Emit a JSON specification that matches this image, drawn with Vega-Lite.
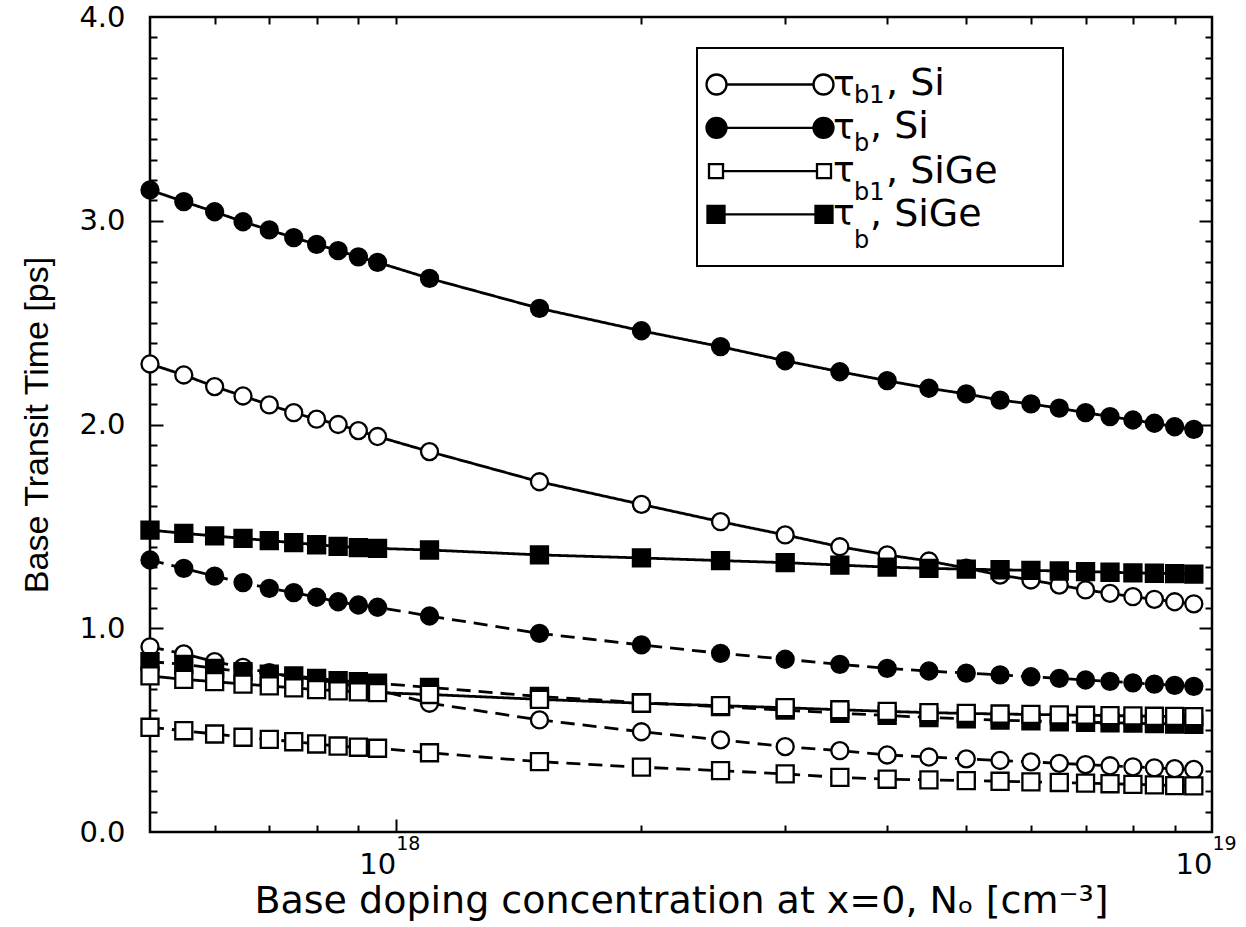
{
  "$schema": "https://vega.github.io/schema/vega-lite/v6.json",
  "width": 1062,
  "height": 815,
  "autosize": "none",
  "padding": {"left": 150, "top": 17, "right": 34, "bottom": 95},
  "background": "white",
  "config": {
    "view": {"stroke": "black", "strokeWidth": 2.5},
    "font": "DejaVu Sans",
    "axis": {"grid": false, "domain": false, "labelColor": "black", "titleColor": "black", "tickColor": "black", "tickWidth": 2, "titleFontWeight": "normal", "labelFont": "DejaVu Sans", "titleFont": "DejaVu Sans"},
    "legend": {"labelColor": "black", "labelFont": "DejaVu Sans", "titleFont": "DejaVu Sans", "strokeWidth": 2}
  },
  "datasets": {
    "curves": [
      {"N":5e17,"tau":2.297,"qty":"τb1","mat":"Si","set":"1"},{"N":5.5e17,"tau":2.243,"qty":"τb1","mat":"Si","set":"1"},{"N":6e17,"tau":2.186,"qty":"τb1","mat":"Si","set":"1"},{"N":6.5e17,"tau":2.140,"qty":"τb1","mat":"Si","set":"1"},{"N":7e17,"tau":2.096,"qty":"τb1","mat":"Si","set":"1"},{"N":7.5e17,"tau":2.058,"qty":"τb1","mat":"Si","set":"1"},{"N":8e17,"tau":2.026,"qty":"τb1","mat":"Si","set":"1"},{"N":8.5e17,"tau":2.000,"qty":"τb1","mat":"Si","set":"1"},{"N":9e17,"tau":1.970,"qty":"τb1","mat":"Si","set":"1"},{"N":9.5e17,"tau":1.941,"qty":"τb1","mat":"Si","set":"1"},{"N":1.1e18,"tau":1.867,"qty":"τb1","mat":"Si","set":"1"},{"N":1.5e18,"tau":1.719,"qty":"τb1","mat":"Si","set":"1"},{"N":2e18,"tau":1.608,"qty":"τb1","mat":"Si","set":"1"},{"N":2.5e18,"tau":1.523,"qty":"τb1","mat":"Si","set":"1"},{"N":3e18,"tau":1.458,"qty":"τb1","mat":"Si","set":"1"},{"N":3.5e18,"tau":1.400,"qty":"τb1","mat":"Si","set":"1"},{"N":4e18,"tau":1.360,"qty":"τb1","mat":"Si","set":"1"},{"N":4.5e18,"tau":1.330,"qty":"τb1","mat":"Si","set":"1"},{"N":5e18,"tau":1.295,"qty":"τb1","mat":"Si","set":"1"},{"N":5.5e18,"tau":1.261,"qty":"τb1","mat":"Si","set":"1"},{"N":6e18,"tau":1.237,"qty":"τb1","mat":"Si","set":"1"},{"N":6.5e18,"tau":1.212,"qty":"τb1","mat":"Si","set":"1"},{"N":7e18,"tau":1.188,"qty":"τb1","mat":"Si","set":"1"},{"N":7.5e18,"tau":1.171,"qty":"τb1","mat":"Si","set":"1"},{"N":8e18,"tau":1.155,"qty":"τb1","mat":"Si","set":"1"},{"N":8.5e18,"tau":1.142,"qty":"τb1","mat":"Si","set":"1"},{"N":9e18,"tau":1.130,"qty":"τb1","mat":"Si","set":"1"},{"N":9.5e18,"tau":1.120,"qty":"τb1","mat":"Si","set":"1"},
      {"N":5e17,"tau":0.909,"qty":"τb1","mat":"Si","set":"2"},{"N":5.5e17,"tau":0.874,"qty":"τb1","mat":"Si","set":"2"},{"N":6e17,"tau":0.836,"qty":"τb1","mat":"Si","set":"2"},{"N":6.5e17,"tau":0.808,"qty":"τb1","mat":"Si","set":"2"},{"N":7e17,"tau":0.782,"qty":"τb1","mat":"Si","set":"2"},{"N":7.5e17,"tau":0.762,"qty":"τb1","mat":"Si","set":"2"},{"N":8e17,"tau":0.746,"qty":"τb1","mat":"Si","set":"2"},{"N":8.5e17,"tau":0.733,"qty":"τb1","mat":"Si","set":"2"},{"N":9e17,"tau":0.713,"qty":"τb1","mat":"Si","set":"2"},{"N":9.5e17,"tau":0.697,"qty":"τb1","mat":"Si","set":"2"},{"N":1.1e18,"tau":0.632,"qty":"τb1","mat":"Si","set":"2"},{"N":1.5e18,"tau":0.550,"qty":"τb1","mat":"Si","set":"2"},{"N":2e18,"tau":0.492,"qty":"τb1","mat":"Si","set":"2"},{"N":2.5e18,"tau":0.452,"qty":"τb1","mat":"Si","set":"2"},{"N":3e18,"tau":0.419,"qty":"τb1","mat":"Si","set":"2"},{"N":3.5e18,"tau":0.399,"qty":"τb1","mat":"Si","set":"2"},{"N":4e18,"tau":0.378,"qty":"τb1","mat":"Si","set":"2"},{"N":4.5e18,"tau":0.368,"qty":"τb1","mat":"Si","set":"2"},{"N":5e18,"tau":0.359,"qty":"τb1","mat":"Si","set":"2"},{"N":5.5e18,"tau":0.351,"qty":"τb1","mat":"Si","set":"2"},{"N":6e18,"tau":0.344,"qty":"τb1","mat":"Si","set":"2"},{"N":6.5e18,"tau":0.337,"qty":"τb1","mat":"Si","set":"2"},{"N":7e18,"tau":0.331,"qty":"τb1","mat":"Si","set":"2"},{"N":7.5e18,"tau":0.325,"qty":"τb1","mat":"Si","set":"2"},{"N":8e18,"tau":0.320,"qty":"τb1","mat":"Si","set":"2"},{"N":8.5e18,"tau":0.315,"qty":"τb1","mat":"Si","set":"2"},{"N":9e18,"tau":0.311,"qty":"τb1","mat":"Si","set":"2"},{"N":9.5e18,"tau":0.307,"qty":"τb1","mat":"Si","set":"2"},
      {"N":5e17,"tau":3.151,"qty":"τb","mat":"Si","set":"1"},{"N":5.5e17,"tau":3.094,"qty":"τb","mat":"Si","set":"1"},{"N":6e17,"tau":3.044,"qty":"τb","mat":"Si","set":"1"},{"N":6.5e17,"tau":2.995,"qty":"τb","mat":"Si","set":"1"},{"N":7e17,"tau":2.955,"qty":"τb","mat":"Si","set":"1"},{"N":7.5e17,"tau":2.917,"qty":"τb","mat":"Si","set":"1"},{"N":8e17,"tau":2.884,"qty":"τb","mat":"Si","set":"1"},{"N":8.5e17,"tau":2.853,"qty":"τb","mat":"Si","set":"1"},{"N":9e17,"tau":2.823,"qty":"τb","mat":"Si","set":"1"},{"N":9.5e17,"tau":2.796,"qty":"τb","mat":"Si","set":"1"},{"N":1.1e18,"tau":2.717,"qty":"τb","mat":"Si","set":"1"},{"N":1.5e18,"tau":2.570,"qty":"τb","mat":"Si","set":"1"},{"N":2e18,"tau":2.460,"qty":"τb","mat":"Si","set":"1"},{"N":2.5e18,"tau":2.382,"qty":"τb","mat":"Si","set":"1"},{"N":3e18,"tau":2.313,"qty":"τb","mat":"Si","set":"1"},{"N":3.5e18,"tau":2.259,"qty":"τb","mat":"Si","set":"1"},{"N":4e18,"tau":2.215,"qty":"τb","mat":"Si","set":"1"},{"N":4.5e18,"tau":2.178,"qty":"τb","mat":"Si","set":"1"},{"N":5e18,"tau":2.150,"qty":"τb","mat":"Si","set":"1"},{"N":5.5e18,"tau":2.120,"qty":"τb","mat":"Si","set":"1"},{"N":6e18,"tau":2.101,"qty":"τb","mat":"Si","set":"1"},{"N":6.5e18,"tau":2.080,"qty":"τb","mat":"Si","set":"1"},{"N":7e18,"tau":2.058,"qty":"τb","mat":"Si","set":"1"},{"N":7.5e18,"tau":2.039,"qty":"τb","mat":"Si","set":"1"},{"N":8e18,"tau":2.022,"qty":"τb","mat":"Si","set":"1"},{"N":8.5e18,"tau":2.006,"qty":"τb","mat":"Si","set":"1"},{"N":9e18,"tau":1.989,"qty":"τb","mat":"Si","set":"1"},{"N":9.5e18,"tau":1.976,"qty":"τb","mat":"Si","set":"1"},
      {"N":5e17,"tau":1.335,"qty":"τb","mat":"Si","set":"2"},{"N":5.5e17,"tau":1.294,"qty":"τb","mat":"Si","set":"2"},{"N":6e17,"tau":1.256,"qty":"τb","mat":"Si","set":"2"},{"N":6.5e17,"tau":1.224,"qty":"τb","mat":"Si","set":"2"},{"N":7e17,"tau":1.196,"qty":"τb","mat":"Si","set":"2"},{"N":7.5e17,"tau":1.175,"qty":"τb","mat":"Si","set":"2"},{"N":8e17,"tau":1.152,"qty":"τb","mat":"Si","set":"2"},{"N":8.5e17,"tau":1.130,"qty":"τb","mat":"Si","set":"2"},{"N":9e17,"tau":1.114,"qty":"τb","mat":"Si","set":"2"},{"N":9.5e17,"tau":1.103,"qty":"τb","mat":"Si","set":"2"},{"N":1.1e18,"tau":1.060,"qty":"τb","mat":"Si","set":"2"},{"N":1.5e18,"tau":0.975,"qty":"τb","mat":"Si","set":"2"},{"N":2e18,"tau":0.918,"qty":"τb","mat":"Si","set":"2"},{"N":2.5e18,"tau":0.877,"qty":"τb","mat":"Si","set":"2"},{"N":3e18,"tau":0.848,"qty":"τb","mat":"Si","set":"2"},{"N":3.5e18,"tau":0.823,"qty":"τb","mat":"Si","set":"2"},{"N":4e18,"tau":0.803,"qty":"τb","mat":"Si","set":"2"},{"N":4.5e18,"tau":0.790,"qty":"τb","mat":"Si","set":"2"},{"N":5e18,"tau":0.780,"qty":"τb","mat":"Si","set":"2"},{"N":5.5e18,"tau":0.771,"qty":"τb","mat":"Si","set":"2"},{"N":6e18,"tau":0.762,"qty":"τb","mat":"Si","set":"2"},{"N":6.5e18,"tau":0.754,"qty":"τb","mat":"Si","set":"2"},{"N":7e18,"tau":0.746,"qty":"τb","mat":"Si","set":"2"},{"N":7.5e18,"tau":0.739,"qty":"τb","mat":"Si","set":"2"},{"N":8e18,"tau":0.732,"qty":"τb","mat":"Si","set":"2"},{"N":8.5e18,"tau":0.726,"qty":"τb","mat":"Si","set":"2"},{"N":9e18,"tau":0.720,"qty":"τb","mat":"Si","set":"2"},{"N":9.5e18,"tau":0.715,"qty":"τb","mat":"Si","set":"2"},
      {"N":5e17,"tau":1.482,"qty":"τb","mat":"SiGe","set":"1"},{"N":5.5e17,"tau":1.466,"qty":"τb","mat":"SiGe","set":"1"},{"N":6e17,"tau":1.453,"qty":"τb","mat":"SiGe","set":"1"},{"N":6.5e17,"tau":1.441,"qty":"τb","mat":"SiGe","set":"1"},{"N":7e17,"tau":1.430,"qty":"τb","mat":"SiGe","set":"1"},{"N":7.5e17,"tau":1.420,"qty":"τb","mat":"SiGe","set":"1"},{"N":8e17,"tau":1.410,"qty":"τb","mat":"SiGe","set":"1"},{"N":8.5e17,"tau":1.402,"qty":"τb","mat":"SiGe","set":"1"},{"N":9e17,"tau":1.396,"qty":"τb","mat":"SiGe","set":"1"},{"N":9.5e17,"tau":1.392,"qty":"τb","mat":"SiGe","set":"1"},{"N":1.1e18,"tau":1.384,"qty":"τb","mat":"SiGe","set":"1"},{"N":1.5e18,"tau":1.360,"qty":"τb","mat":"SiGe","set":"1"},{"N":2e18,"tau":1.345,"qty":"τb","mat":"SiGe","set":"1"},{"N":2.5e18,"tau":1.332,"qty":"τb","mat":"SiGe","set":"1"},{"N":3e18,"tau":1.322,"qty":"τb","mat":"SiGe","set":"1"},{"N":3.5e18,"tau":1.310,"qty":"τb","mat":"SiGe","set":"1"},{"N":4e18,"tau":1.300,"qty":"τb","mat":"SiGe","set":"1"},{"N":4.5e18,"tau":1.294,"qty":"τb","mat":"SiGe","set":"1"},{"N":5e18,"tau":1.290,"qty":"τb","mat":"SiGe","set":"1"},{"N":5.5e18,"tau":1.287,"qty":"τb","mat":"SiGe","set":"1"},{"N":6e18,"tau":1.284,"qty":"τb","mat":"SiGe","set":"1"},{"N":6.5e18,"tau":1.281,"qty":"τb","mat":"SiGe","set":"1"},{"N":7e18,"tau":1.278,"qty":"τb","mat":"SiGe","set":"1"},{"N":7.5e18,"tau":1.275,"qty":"τb","mat":"SiGe","set":"1"},{"N":8e18,"tau":1.272,"qty":"τb","mat":"SiGe","set":"1"},{"N":8.5e18,"tau":1.270,"qty":"τb","mat":"SiGe","set":"1"},{"N":9e18,"tau":1.268,"qty":"τb","mat":"SiGe","set":"1"},{"N":9.5e18,"tau":1.266,"qty":"τb","mat":"SiGe","set":"1"},
      {"N":5e17,"tau":0.836,"qty":"τb","mat":"SiGe","set":"2"},{"N":5.5e17,"tau":0.823,"qty":"τb","mat":"SiGe","set":"2"},{"N":6e17,"tau":0.803,"qty":"τb","mat":"SiGe","set":"2"},{"N":6.5e17,"tau":0.787,"qty":"τb","mat":"SiGe","set":"2"},{"N":7e17,"tau":0.775,"qty":"τb","mat":"SiGe","set":"2"},{"N":7.5e17,"tau":0.766,"qty":"τb","mat":"SiGe","set":"2"},{"N":8e17,"tau":0.754,"qty":"τb","mat":"SiGe","set":"2"},{"N":8.5e17,"tau":0.743,"qty":"τb","mat":"SiGe","set":"2"},{"N":9e17,"tau":0.738,"qty":"τb","mat":"SiGe","set":"2"},{"N":9.5e17,"tau":0.730,"qty":"τb","mat":"SiGe","set":"2"},{"N":1.1e18,"tau":0.710,"qty":"τb","mat":"SiGe","set":"2"},{"N":1.5e18,"tau":0.665,"qty":"τb","mat":"SiGe","set":"2"},{"N":2e18,"tau":0.635,"qty":"τb","mat":"SiGe","set":"2"},{"N":2.5e18,"tau":0.615,"qty":"τb","mat":"SiGe","set":"2"},{"N":3e18,"tau":0.598,"qty":"τb","mat":"SiGe","set":"2"},{"N":3.5e18,"tau":0.583,"qty":"τb","mat":"SiGe","set":"2"},{"N":4e18,"tau":0.572,"qty":"τb","mat":"SiGe","set":"2"},{"N":4.5e18,"tau":0.562,"qty":"τb","mat":"SiGe","set":"2"},{"N":5e18,"tau":0.555,"qty":"τb","mat":"SiGe","set":"2"},{"N":5.5e18,"tau":0.549,"qty":"τb","mat":"SiGe","set":"2"},{"N":6e18,"tau":0.545,"qty":"τb","mat":"SiGe","set":"2"},{"N":6.5e18,"tau":0.541,"qty":"τb","mat":"SiGe","set":"2"},{"N":7e18,"tau":0.538,"qty":"τb","mat":"SiGe","set":"2"},{"N":7.5e18,"tau":0.536,"qty":"τb","mat":"SiGe","set":"2"},{"N":8e18,"tau":0.534,"qty":"τb","mat":"SiGe","set":"2"},{"N":8.5e18,"tau":0.532,"qty":"τb","mat":"SiGe","set":"2"},{"N":9e18,"tau":0.530,"qty":"τb","mat":"SiGe","set":"2"},{"N":9.5e18,"tau":0.529,"qty":"τb","mat":"SiGe","set":"2"},
      {"N":5e17,"tau":0.766,"qty":"τb1","mat":"SiGe","set":"1"},{"N":5.5e17,"tau":0.749,"qty":"τb1","mat":"SiGe","set":"1"},{"N":6e17,"tau":0.738,"qty":"τb1","mat":"SiGe","set":"1"},{"N":6.5e17,"tau":0.726,"qty":"τb1","mat":"SiGe","set":"1"},{"N":7e17,"tau":0.717,"qty":"τb1","mat":"SiGe","set":"1"},{"N":7.5e17,"tau":0.707,"qty":"τb1","mat":"SiGe","set":"1"},{"N":8e17,"tau":0.699,"qty":"τb1","mat":"SiGe","set":"1"},{"N":8.5e17,"tau":0.693,"qty":"τb1","mat":"SiGe","set":"1"},{"N":9e17,"tau":0.688,"qty":"τb1","mat":"SiGe","set":"1"},{"N":9.5e17,"tau":0.684,"qty":"τb1","mat":"SiGe","set":"1"},{"N":1.1e18,"tau":0.675,"qty":"τb1","mat":"SiGe","set":"1"},{"N":1.5e18,"tau":0.651,"qty":"τb1","mat":"SiGe","set":"1"},{"N":2e18,"tau":0.632,"qty":"τb1","mat":"SiGe","set":"1"},{"N":2.5e18,"tau":0.620,"qty":"τb1","mat":"SiGe","set":"1"},{"N":3e18,"tau":0.610,"qty":"τb1","mat":"SiGe","set":"1"},{"N":3.5e18,"tau":0.600,"qty":"τb1","mat":"SiGe","set":"1"},{"N":4e18,"tau":0.592,"qty":"τb1","mat":"SiGe","set":"1"},{"N":4.5e18,"tau":0.586,"qty":"τb1","mat":"SiGe","set":"1"},{"N":5e18,"tau":0.582,"qty":"τb1","mat":"SiGe","set":"1"},{"N":5.5e18,"tau":0.579,"qty":"τb1","mat":"SiGe","set":"1"},{"N":6e18,"tau":0.577,"qty":"τb1","mat":"SiGe","set":"1"},{"N":6.5e18,"tau":0.575,"qty":"τb1","mat":"SiGe","set":"1"},{"N":7e18,"tau":0.573,"qty":"τb1","mat":"SiGe","set":"1"},{"N":7.5e18,"tau":0.571,"qty":"τb1","mat":"SiGe","set":"1"},{"N":8e18,"tau":0.570,"qty":"τb1","mat":"SiGe","set":"1"},{"N":8.5e18,"tau":0.568,"qty":"τb1","mat":"SiGe","set":"1"},{"N":9e18,"tau":0.567,"qty":"τb1","mat":"SiGe","set":"1"},{"N":9.5e18,"tau":0.566,"qty":"τb1","mat":"SiGe","set":"1"},
      {"N":5e17,"tau":0.514,"qty":"τb1","mat":"SiGe","set":"2"},{"N":5.5e17,"tau":0.497,"qty":"τb1","mat":"SiGe","set":"2"},{"N":6e17,"tau":0.481,"qty":"τb1","mat":"SiGe","set":"2"},{"N":6.5e17,"tau":0.465,"qty":"τb1","mat":"SiGe","set":"2"},{"N":7e17,"tau":0.455,"qty":"τb1","mat":"SiGe","set":"2"},{"N":7.5e17,"tau":0.443,"qty":"τb1","mat":"SiGe","set":"2"},{"N":8e17,"tau":0.432,"qty":"τb1","mat":"SiGe","set":"2"},{"N":8.5e17,"tau":0.422,"qty":"τb1","mat":"SiGe","set":"2"},{"N":9e17,"tau":0.416,"qty":"τb1","mat":"SiGe","set":"2"},{"N":9.5e17,"tau":0.411,"qty":"τb1","mat":"SiGe","set":"2"},{"N":1.1e18,"tau":0.389,"qty":"τb1","mat":"SiGe","set":"2"},{"N":1.5e18,"tau":0.345,"qty":"τb1","mat":"SiGe","set":"2"},{"N":2e18,"tau":0.318,"qty":"τb1","mat":"SiGe","set":"2"},{"N":2.5e18,"tau":0.301,"qty":"τb1","mat":"SiGe","set":"2"},{"N":3e18,"tau":0.285,"qty":"τb1","mat":"SiGe","set":"2"},{"N":3.5e18,"tau":0.268,"qty":"τb1","mat":"SiGe","set":"2"},{"N":4e18,"tau":0.259,"qty":"τb1","mat":"SiGe","set":"2"},{"N":4.5e18,"tau":0.256,"qty":"τb1","mat":"SiGe","set":"2"},{"N":5e18,"tau":0.252,"qty":"τb1","mat":"SiGe","set":"2"},{"N":5.5e18,"tau":0.249,"qty":"τb1","mat":"SiGe","set":"2"},{"N":6e18,"tau":0.246,"qty":"τb1","mat":"SiGe","set":"2"},{"N":6.5e18,"tau":0.243,"qty":"τb1","mat":"SiGe","set":"2"},{"N":7e18,"tau":0.240,"qty":"τb1","mat":"SiGe","set":"2"},{"N":7.5e18,"tau":0.237,"qty":"τb1","mat":"SiGe","set":"2"},{"N":8e18,"tau":0.234,"qty":"τb1","mat":"SiGe","set":"2"},{"N":8.5e18,"tau":0.231,"qty":"τb1","mat":"SiGe","set":"2"},{"N":9e18,"tau":0.228,"qty":"τb1","mat":"SiGe","set":"2"},{"N":9.5e18,"tau":0.226,"qty":"τb1","mat":"SiGe","set":"2"}
    ],
    "legendRows": [
      {"entry": "τb1, Si", "sub": "1 b1"},
      {"entry": "τb, Si", "sub": "2 b"},
      {"entry": "τb1, SiGe", "sub": "3 b1"},
      {"entry": "τb, SiGe", "sub": "4 b"}
    ],
    "legendTail": [
      {"tail": ", Si"},
      {"tail": ", SiGe"}
    ]
  },
  "layer": [
    {
      "data": {"name": "curves"},
      "mark": {"type": "line", "color": "black", "strokeWidth": 2.8},
      "encoding": {
        "x": {"field": "N", "type": "quantitative", "scale": {"type": "log", "domain": [5e17, 1e19], "nice": false},
          "axis": {"orient": "bottom", "values": [1e18, 1e19], "labelExpr": "'10'", "ticks": false, "domain": false, "labelAlign": "right", "labelDx": -1, "labelFontSize": 29, "labelPadding": 18, "labelFlush": false, "labelOverlap": false, "labelBound": false,
            "title": "Base doping concentration at x=0, Nₒ [cm⁻³]", "titleFontSize": 38, "titlePadding": 3}},
        "y": {"field": "tau", "type": "quantitative", "scale": {"domain": [0, 4], "nice": false, "zero": false},
          "axis": {"orient": "left", "values": [0, 1, 2, 3, 4], "format": ".1f", "ticks": false, "domain": false, "labelFontSize": 29, "labelPadding": 25, "labelDy": 4, "labelOverlap": false, "labelBound": false,
            "title": "Base Transit Time [ps]", "titleFont": "Liberation Sans", "titleFontSize": 34, "titlePadding": 24}},
        "detail": [{"field": "qty", "type": "nominal"}, {"field": "mat", "type": "nominal"}],
        "strokeDash": {"field": "set", "type": "nominal", "scale": {"domain": ["1", "2"], "range": [[1, 0], [14, 8]]}, "legend": null}
      }
    },
    {
      "data": {"name": "curves"},
      "mark": {"type": "point", "filled": true, "stroke": "black", "strokeWidth": 2.3, "size": 290, "opacity": 1},
      "encoding": {
        "x": {"field": "N", "type": "quantitative",
          "axis": {"orient": "bottom", "offset": -7, "values": [6e17, 7e17, 8e17, 9e17, 2e18, 3e18, 4e18, 5e18, 6e18, 7e18, 8e18, 9e18], "labels": false, "domain": false, "title": null, "tickSize": 7}},
        "y": {"field": "tau", "type": "quantitative",
          "axis": {"orient": "left", "offset": -7, "values": [0.1,0.2,0.3,0.4,0.5,0.6,0.7,0.8,0.9,1.1,1.2,1.3,1.4,1.5,1.6,1.7,1.8,1.9,2.1,2.2,2.3,2.4,2.5,2.6,2.7,2.8,2.9,3.1,3.2,3.3,3.4,3.5,3.6,3.7,3.8,3.9], "labels": false, "domain": false, "title": null, "tickSize": 7}},
        "shape": {"field": "mat", "type": "nominal", "scale": {"domain": ["Si", "SiGe"], "range": ["circle", "square"]}, "legend": null},
        "fill": {"field": "qty", "type": "nominal", "scale": {"domain": ["τb", "τb1"], "range": ["black", "white"]}, "legend": null}
      }
    },
    {
      "data": {"name": "curves"},
      "mark": {"type": "point", "opacity": 0},
      "encoding": {
        "x": {"field": "N", "type": "quantitative",
          "axis": {"orient": "bottom", "values": [1e18, 1e19], "labelExpr": "datum.value < 5e18 ? '18' : '19'", "ticks": false, "domain": false, "labelAlign": "left", "labelDx": 2, "labelFontSize": 19, "labelPadding": 2, "labelFlush": false, "labelOverlap": false, "labelBound": false, "title": null}},
        "y": {"field": "tau", "type": "quantitative",
          "axis": {"orient": "right", "offset": -7, "values": [0.1,0.2,0.3,0.4,0.5,0.6,0.7,0.8,0.9,1.1,1.2,1.3,1.4,1.5,1.6,1.7,1.8,1.9,2.1,2.2,2.3,2.4,2.5,2.6,2.7,2.8,2.9,3.1,3.2,3.3,3.4,3.5,3.6,3.7,3.8,3.9], "labels": false, "domain": false, "title": null, "tickSize": 7}}
      }
    },
    {
      "data": {"name": "curves"},
      "mark": {"type": "point", "opacity": 0},
      "encoding": {
        "x": {"field": "N", "type": "quantitative",
          "axis": {"orient": "top", "offset": -7, "values": [6e17, 7e17, 8e17, 9e17, 1e18, 2e18, 3e18, 4e18, 5e18, 6e18, 7e18, 8e18, 9e18], "labels": false, "domain": false, "title": null, "tickSize": 7}},
        "y": {"field": "tau", "type": "quantitative",
          "axis": {"orient": "left", "offset": -13, "values": [1, 2, 3], "labels": false, "domain": false, "title": null, "tickSize": 13}}
      }
    },
    {
      "data": {"name": "curves"},
      "mark": {"type": "point", "opacity": 0},
      "encoding": {
        "x": {"field": "N", "type": "quantitative",
          "axis": {"orient": "bottom", "offset": -13, "values": [1e18], "labels": false, "domain": false, "title": null, "tickSize": 13}},
        "y": {"field": "tau", "type": "quantitative",
          "axis": {"orient": "right", "offset": -13, "values": [1, 2, 3], "labels": false, "domain": false, "title": null, "tickSize": 13}}
      }
    },
    {
      "data": {"name": "legendRows"},
      "mark": {"type": "point", "filled": true, "opacity": 0, "stroke": "black", "strokeWidth": 2},
      "encoding": {
        "shape": {"field": "entry", "type": "nominal",
          "scale": {"domain": ["τb1, Si", "τb, Si", "τb1, SiGe", "τb, SiGe"],
            "range": [
              "M -2.175 0 A 0.5 0.5 0 1 1 -3.175 0 A 0.5 0.5 0 1 1 -2.175 0 Z M -2.175 0 L 2.175 0 M 3.175 0 A 0.5 0.5 0 1 1 2.175 0 A 0.5 0.5 0 1 1 3.175 0 Z M 13.98 0",
              "M -2.175 0 A 0.5 0.5 0 1 1 -3.175 0 A 0.5 0.5 0 1 1 -2.175 0 Z M -2.175 0 L 2.175 0 M 3.175 0 A 0.5 0.5 0 1 1 2.175 0 A 0.5 0.5 0 1 1 3.175 0 Z M 13.98 0",
              "M -3.05 -0.35 L -2.35 -0.35 L -2.35 0.35 L -3.05 0.35 Z M -2.35 0 L 2.35 0 M 2.35 -0.35 L 3.05 -0.35 L 3.05 0.35 L 2.35 0.35 Z M 13.98 0",
              "M -3.125 -0.425 L -2.275 -0.425 L -2.275 0.425 L -3.125 0.425 Z M -2.275 0 L 2.275 0 M 2.275 -0.425 L 3.125 -0.425 L 3.125 0.425 L 2.275 0.425 Z M 0 1.95 M 13.98 0"
            ]},
          "legend": {"orient": "none", "legendX": 547, "legendY": 31, "title": " ", "titleOrient": "top", "titleFontSize": 6, "titlePadding": 1,
            "padding": 8, "strokeColor": "black", "fillColor": "white",
            "symbolSize": 1600, "symbolOffset": 43.5, "symbolOpacity": 1,
            "labelExpr": "'τ'", "labelFontSize": 36, "labelOffset": 41.5, "labelLimit": 1000, "rowPadding": 3.3,
            "encode": {"symbols": {"update": {"stroke": {"value": "black"}, "strokeWidth": {"value": 2.3}, "opacity": {"value": 1}}}}}},
        "fill": {"field": "entry", "type": "nominal",
          "scale": {"domain": ["τb1, Si", "τb, Si", "τb1, SiGe", "τb, SiGe"], "range": ["white", "black", "white", "black"]},
          "legend": {"orient": "none", "legendX": 547, "legendY": 31, "title": " ", "titleOrient": "top", "titleFontSize": 6, "titlePadding": 1,
            "padding": 8, "strokeColor": "black", "fillColor": "white",
            "symbolSize": 1600, "symbolOffset": 43.5, "symbolOpacity": 1,
            "labelExpr": "'τ'", "labelFontSize": 36, "labelOffset": 41.5, "labelLimit": 1000, "rowPadding": 3.3,
            "encode": {"symbols": {"update": {"stroke": {"value": "black"}, "strokeWidth": {"value": 2.3}, "opacity": {"value": 1}}}}}},
        "stroke": {"field": "sub", "type": "nominal", "scale": {"range": ["black", "black", "black", "black"]},
          "legend": {"orient": "none", "legendX": 654, "legendY": 38, "title": null, "padding": 8,
            "symbolSize": 1600, "symbolOpacity": 0, "labelExpr": "slice(datum.value, 2)", "labelFontSize": 24, "labelOffset": 0, "labelLimit": 1000, "rowPadding": 3.3, "labelBaseline": "top",
            "encode": {"labels": {"update": {"dy": {"value": 10}}}}}}
      }
    },
    {
      "data": {"name": "legendTail"},
      "mark": {"type": "point", "opacity": 0},
      "encoding": {
        "strokeDash": {"field": "tail", "type": "nominal", "scale": {"range": [[1, 0], [1, 0]]},
          "legend": {"orient": "none", "legendX": 686, "legendY": 38, "title": null, "padding": 8,
            "symbolSize": 1600, "symbolOpacity": 0, "labelFontSize": 38, "labelOffset": 0, "labelLimit": 1000, "rowPadding": 46.6}}
      }
    },
    {
      "data": {"name": "legendTail"},
      "mark": {"type": "point", "opacity": 0},
      "encoding": {
        "strokeDash": {"field": "tail", "type": "nominal", "scale": {"range": [[1, 0], [1, 0]]},
          "legend": {"orient": "none", "legendX": 670, "legendY": 81.3, "title": null, "padding": 8,
            "symbolSize": 1600, "symbolOpacity": 0, "labelFontSize": 38, "labelOffset": 0, "labelLimit": 1000, "rowPadding": 46.6}}
      }
    }
  ],
  "resolve": {
    "axis": {"x": "independent", "y": "independent"},
    "scale": {"shape": "independent", "fill": "independent", "stroke": "independent", "strokeDash": "independent"},
    "legend": {"shape": "independent", "fill": "independent", "stroke": "independent", "strokeDash": "independent"}
  }
}
